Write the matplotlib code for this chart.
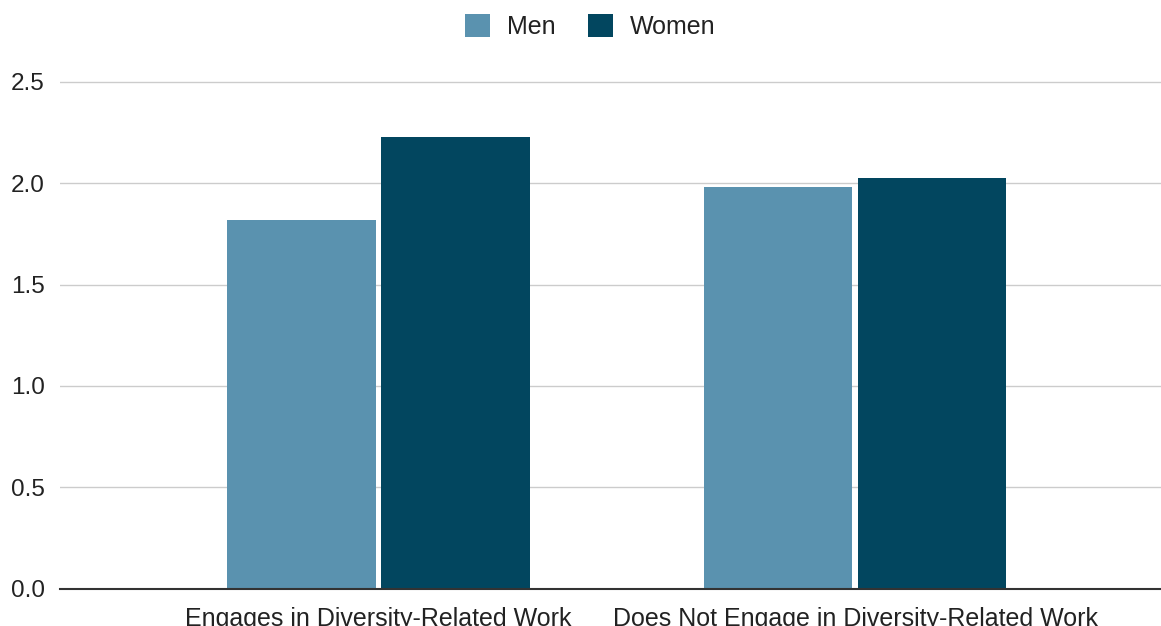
import matplotlib.pyplot as plt
import numpy as np
from matplotlib.patches import Patch

categories = ["Engages in Diversity-Related Work", "Does Not Engage in Diversity-Related Work"]
men = [1.82, 1.98]
women = [2.23, 2.025]
series = ["Men", "Women"]
colors = ["#5A92AF", "#02465F"]
yticks = [0.0, 0.5, 1.0, 1.5, 2.0, 2.5]

plt.rcParams["font.family"] = ["Liberation Sans", "DejaVu Sans"]

W, H = 1161, 626
fig = plt.figure(figsize=(W / 100, H / 100), dpi=100)

# axes box in pixel terms: baseline at y=588.5, 2.5 gridline at y=82
px_per_unit = (588.5 - 82) / 2.5
top_px = 62
ax = fig.add_axes([60 / W, 1 - 588.5 / H, 1 - 60 / W, (588.5 - top_px) / H])
ax.set_ylim(0, (588.5 - top_px) / px_per_unit)
ax.set_xlim(-0.669, 1.642)

x = np.arange(len(categories))
width = 0.312
offset = 0.1617
ax.bar(x - offset, men, width, color=colors[0], zorder=3)
ax.bar(x + offset, women, width, color=colors[1], zorder=3)

ax.set_yticks(yticks)
ax.set_yticklabels([f"{v:.1f}" for v in yticks])
ax.set_xticks(x)
ax.set_xticklabels(categories)
ax.tick_params(axis="y", length=0, pad=11, labelsize=17.5, labelcolor="#222222")
ax.tick_params(axis="x", length=0, pad=13, labelsize=18, labelcolor="#222222")

ax.yaxis.grid(True, color="#cccccc", linewidth=1.0, zorder=0)
ax.set_axisbelow(True)
for side in ["top", "right", "left"]:
    ax.spines[side].set_visible(False)
ax.spines["bottom"].set_color("#333333")
ax.spines["bottom"].set_linewidth(1.5)
ax.spines["bottom"].set_zorder(4)

handles = [Patch(facecolor=c, edgecolor="none") for c in colors]
fig.legend(handles, series, loc="center", bbox_to_anchor=(590 / W, 1 - 26.7 / H),
           ncol=2, frameon=False, fontsize=18, handlelength=1.0, handleheight=1.0,
           handletextpad=0.68, columnspacing=1.3, labelcolor="#222222")

fig.savefig("out.png", dpi=100)
